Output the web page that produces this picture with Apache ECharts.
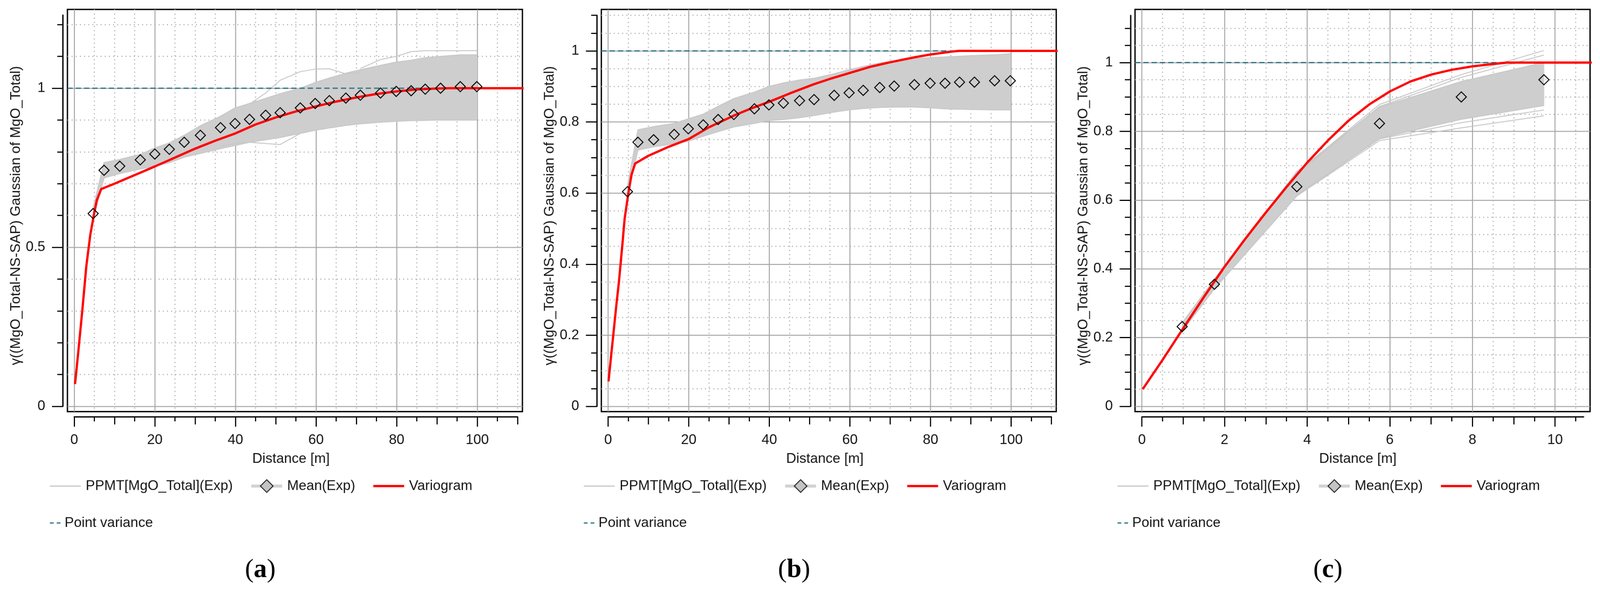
<!DOCTYPE html>
<html>
<head>
<meta charset="utf-8">
<title>PPMT variograms</title>
<script src="https://cdn.jsdelivr.net/npm/echarts@6/dist/echarts.min.js"></script>
<style>
  html, body { margin: 0; padding: 0; background: #fff; overflow: hidden; }
  #chart { width: 4248px; height: 1563px; transform-origin: 0 0; }
</style>
</head>
<body>
<div id="chart"></div>
<script>
// names and titles
const NAME_PPMT = 'PPMT[MgO_Total](Exp)';
const NAME_MEAN = 'Mean(Exp)';
const NAME_VARIO = 'Variogram';
const NAME_PV = 'Point variance';
const yTitle = 'γ((MgO_Total-NS-SAP) Gaussian of MgO_Total)';
const xTitle = 'Distance [m]';
const panelTags = ['a', 'b', 'c'];
const sill = 1;

// ---- panel (a) ----
const lagsA = [4.7, 7.4, 11.3, 16.4, 20.0, 23.6, 27.3, 31.3, 36.3, 39.9, 43.5, 47.5, 51.1, 56.1, 59.8, 63.3, 67.4, 71.0, 76.0, 79.9, 83.6, 87.1, 90.9, 95.8, 99.9];
const meanA = [0.606, 0.742, 0.755, 0.775, 0.793, 0.808, 0.830, 0.852, 0.876, 0.889, 0.902, 0.915, 0.923, 0.938, 0.952, 0.961, 0.969, 0.978, 0.985, 0.990, 0.992, 0.997, 1.000, 1.005, 1.005];
const bandLoA = [0.590, 0.718, 0.732, 0.746, 0.755, 0.766, 0.783, 0.795, 0.810, 0.820, 0.830, 0.838, 0.845, 0.858, 0.868, 0.875, 0.883, 0.888, 0.893, 0.896, 0.898, 0.899, 0.900, 0.900, 0.900];
const bandHiA = [0.625, 0.766, 0.776, 0.792, 0.812, 0.828, 0.852, 0.882, 0.912, 0.938, 0.952, 0.968, 0.983, 1.000, 1.018, 1.032, 1.047, 1.058, 1.072, 1.082, 1.088, 1.096, 1.100, 1.105, 1.105];
const ppmtHighA = [[43.5, 0.950], [47.5, 0.985], [51.1, 1.025], [56.1, 1.052], [59.8, 1.060], [63.3, 1.061], [67.4, 1.045], [71.0, 1.050]];
const ppmtLowA = [[36.3, 0.818], [39.9, 0.826], [43.5, 0.830], [47.5, 0.826], [51.1, 0.823], [56.1, 0.858], [59.8, 0.868]];
const ppmtTopA = [[71.0, 1.062], [76.0, 1.090], [79.9, 1.100], [83.6, 1.115], [87.1, 1.118], [90.9, 1.118], [95.8, 1.118], [99.9, 1.118]];
const variogramA = [[0.2, 0.07], [1, 0.17], [2, 0.30], [3, 0.44], [4, 0.54], [5, 0.61], [5.6, 0.648], [6.7, 0.683], [10, 0.700], [15, 0.727], [20, 0.754], [25, 0.782], [30, 0.810], [35, 0.835], [40, 0.858], [45, 0.886], [50, 0.908], [55, 0.927], [60, 0.943], [65, 0.958], [70, 0.971], [75, 0.982], [80, 0.990], [85, 0.996], [90, 0.999], [93, 1.0], [112, 1.0]];

// ---- panel (b) ----
const lagsB = [4.8, 7.4, 11.3, 16.4, 19.9, 23.6, 27.3, 31.2, 36.3, 39.9, 43.5, 47.5, 51.1, 56.1, 59.8, 63.3, 67.4, 71.0, 76.0, 79.9, 83.6, 87.2, 90.9, 95.9, 99.8];
const meanB = [0.604, 0.743, 0.750, 0.765, 0.781, 0.792, 0.807, 0.821, 0.837, 0.848, 0.853, 0.860, 0.863, 0.875, 0.882, 0.889, 0.897, 0.901, 0.905, 0.909, 0.909, 0.912, 0.912, 0.916, 0.916];
const bandLoB = [0.590, 0.721, 0.730, 0.739, 0.746, 0.760, 0.773, 0.786, 0.796, 0.804, 0.807, 0.812, 0.818, 0.828, 0.834, 0.838, 0.841, 0.842, 0.842, 0.840, 0.837, 0.836, 0.835, 0.834, 0.834];
const bandHiB = [0.620, 0.778, 0.787, 0.796, 0.809, 0.822, 0.844, 0.866, 0.884, 0.900, 0.910, 0.918, 0.923, 0.936, 0.947, 0.956, 0.966, 0.972, 0.978, 0.981, 0.983, 0.985, 0.987, 0.989, 0.992];
const variogramB = [[0.1, 0.07], [1, 0.17], [2, 0.28], [2.7, 0.352], [3.5, 0.45], [4.1, 0.528], [5, 0.598], [5.8, 0.651], [6.7, 0.683], [10, 0.705], [15, 0.730], [20, 0.752], [25, 0.785], [31.2, 0.818], [35, 0.836], [40, 0.857], [45, 0.880], [51, 0.906], [55, 0.921], [60, 0.938], [65, 0.955], [70, 0.968], [76, 0.982], [80, 0.990], [85.3, 0.998], [87, 1.0], [112, 1.0]];

// ---- panel (c) ----
const lagsC = [0.975, 1.755, 3.75, 5.75, 7.73, 9.73];
const meanC = [0.232, 0.355, 0.639, 0.823, 0.900, 0.950];
const bandLoC = [0.218, 0.342, 0.612, 0.780, 0.835, 0.875];
const bandHiC = [0.243, 0.370, 0.683, 0.870, 0.945, 1.000];
const ppmtHighC = [[3.75, 0.680], [5.75, 0.878], [7.73, 0.965], [9.73, 1.035]];
const ppmtHigh2C = [[3.75, 0.676], [5.75, 0.872], [7.73, 0.957], [9.73, 1.022]];
const ppmtLowC = [[3.75, 0.612], [5.75, 0.773], [7.73, 0.810], [9.73, 0.845]];
const ppmtLow2C = [[3.75, 0.615], [5.75, 0.778], [7.73, 0.825], [9.73, 0.862]];
const variogramC = [[0.02, 0.05], [0.5, 0.135], [1, 0.227], [1.5, 0.318], [2, 0.406], [2.5, 0.487], [3, 0.564], [3.5, 0.638], [4, 0.709], [4.5, 0.773], [5, 0.831], [5.5, 0.878], [6, 0.916], [6.5, 0.945], [7, 0.965], [7.5, 0.979], [8, 0.989], [8.5, 0.996], [8.85, 1.0], [11, 1.0]];

// ---- ticks ----
const xMajorAB = [0, 20, 40, 60, 80, 100];
const xMidAB = [10, 30, 50, 70, 90, 110];
const xMinorAB = [5, 15, 25, 35, 45, 55, 65, 75, 85, 95, 105];
const xMajorC = [0, 2, 4, 6, 8, 10];
const xMidC = [1, 3, 5, 7, 9];
const xMinorC = [0.5, 1.5, 2.5, 3.5, 4.5, 5.5, 6.5, 7.5, 8.5, 9.5, 10.5];
const yMajorA = [0, 0.5, 1];
const yMinorA = [0.1, 0.2, 0.3, 0.4, 0.6, 0.7, 0.8, 0.9, 1.1, 1.2];
const yMajorBC = [0, 0.2, 0.4, 0.6, 0.8, 1];
const yMinorBC = [0.05, 0.1, 0.15, 0.25, 0.3, 0.35, 0.45, 0.5, 0.55, 0.65, 0.7, 0.75, 0.85, 0.9, 0.95, 1.05, 1.1];

// ---- layout (pixels of the 4248 x 1563 figure) ----
const W = 4248, H = 1563;
const BOX_TOP = 25, BOX_BOTTOM = 1092, Y0_PX = 1078, X_AXIS_PX = 1106;
const FONT = 'Liberation Sans';
const TXT = '#141414';
const layout = [
  { boxLeft: 179, boxRight: 1387, x0: 197, xPx: 10.7, yPx: 844, xAxisMax: 110, yAxisMax: 1.23 },
  { boxLeft: 1596.5, boxRight: 2804.3, x0: 1614.5, xPx: 10.7, yPx: 943, xAxisMax: 110, yAxisMax: 1.1 },
  { boxLeft: 3013.5, boxRight: 4221.6, x0: 3031.7, xPx: 109.7, yPx: 912, xAxisMax: 10.69, yAxisMax: 1.137 }
];

const panels = [
  { lags: lagsA, mean: meanA, lo: bandLoA, hi: bandHiA, extra: [ppmtHighA, ppmtLowA, ppmtTopA], vario: variogramA,
    xMajor: xMajorAB, xMid: xMidAB, xMinor: xMinorAB, yMajor: yMajorA, yMinor: yMinorA },
  { lags: lagsB, mean: meanB, lo: bandLoB, hi: bandHiB, extra: [], vario: variogramB,
    xMajor: xMajorAB, xMid: xMidAB, xMinor: xMinorAB, yMajor: yMajorBC, yMinor: yMinorBC },
  { lags: lagsC, mean: meanC, lo: bandLoC, hi: bandHiC, extra: [ppmtHighC, ppmtHigh2C, ppmtLowC, ppmtLow2C], vario: variogramC,
    xMajor: xMajorC, xMid: xMidC, xMinor: xMinorC, yMajor: yMajorBC, yMinor: yMinorBC }
];

const solidGrid = { color: '#a3a3a3', width: 2.5 };
const dottedGrid = { color: '#b8b8b8', width: 3, type: [3, 8] };
const blackLine = { color: '#000', width: 3.5 };
const tickLine = { color: '#000', width: 3 };
const labelText = { fontFamily: FONT, fontSize: 37, color: TXT };
const noSymbol = { opacity: 0 };

const grids = [], xAxes = [], yAxes = [], series = [], legends = [], graphics = [];

function gridAxis(gridIndex, min, max, values, lineStyle) {
  return {
    type: 'value', gridIndex, min, max,
    axisLine: { show: false }, axisLabel: { show: false },
    axisTick: { show: false, customValues: values },
    splitLine: { show: true, lineStyle },
    minorTick: { show: false }, minorSplitLine: { show: false }
  };
}

function tickAxis(gridIndex, position, max, values, length, main) {
  return Object.assign({
    type: 'value', gridIndex, position, offset: 0, min: 0, max,
    axisLine: { show: false },
    axisTick: { show: true, inside: false, length, customValues: values, lineStyle: tickLine },
    axisLabel: { show: false },
    splitLine: { show: false }
  }, main || {});
}

function hiddenAxis(gridIndex) {
  return { type: 'value', gridIndex, show: false, min: 0, max: 1, splitLine: { show: false } };
}

function makeBand(p, xi, yi) {
  return {
    type: 'custom', xAxisIndex: xi, yAxisIndex: yi, silent: true, clip: true, z: 1,
    data: p.lags.map((d, i) => [d, p.lo[i], p.hi[i]]),
    renderItem: function (params, api) {
      if (params.dataIndex !== 0) return null;
      const pts = [];
      for (let i = 0; i < p.lags.length; i++) pts.push(api.coord([p.lags[i], p.hi[i]]));
      for (let i = p.lags.length - 1; i >= 0; i--) pts.push(api.coord([p.lags[i], p.lo[i]]));
      return { type: 'polygon', shape: { points: pts }, style: { fill: '#cecece', stroke: '#d4d4d4', lineWidth: 2 } };
    }
  };
}

function grayLine(xi, yi, data) {
  return {
    name: NAME_PPMT, type: 'line', xAxisIndex: xi, yAxisIndex: yi, data, symbol: 'none', silent: true, z: 2,
    lineStyle: { color: '#c8c8c8', width: 2.5 }, itemStyle: { color: '#c8c8c8' }
  };
}

panels.forEach(function (p, k) {
  const L = layout[k];
  const xMin = (L.boxLeft - L.x0) / L.xPx, xMax = (L.boxRight - L.x0) / L.xPx;
  const yMin = (Y0_PX - BOX_BOTTOM) / L.yPx, yMax = (Y0_PX - BOX_TOP) / L.yPx;

  // plot box with its grid lines
  const gBox = grids.length;
  grids.push({ left: L.boxLeft, top: BOX_TOP, width: L.boxRight - L.boxLeft, height: BOX_BOTTOM - BOX_TOP,
    show: true, borderColor: '#000', borderWidth: 3.5, backgroundColor: '#fff', outerBoundsMode: 'none' });
  const xi = xAxes.length, yi = yAxes.length;
  xAxes.push(gridAxis(gBox, xMin, xMax, p.xMajor, solidGrid));
  xAxes.push(gridAxis(gBox, xMin, xMax, p.xMid.concat(p.xMinor), dottedGrid));
  yAxes.push(gridAxis(gBox, yMin, yMax, p.yMajor, solidGrid));
  yAxes.push(gridAxis(gBox, yMin, yMax, p.yMinor, dottedGrid));

  // detached y axis
  const gY = grids.length;
  grids.push({ left: L.boxLeft - 12, top: Y0_PX - L.yAxisMax * L.yPx, width: 10, height: L.yAxisMax * L.yPx, outerBoundsMode: 'none' });
  xAxes.push(hiddenAxis(gY));
  yAxes.push(tickAxis(gY, 'left', L.yAxisMax, p.yMajor, 29, {
    axisLine: { show: true, lineStyle: blackLine },
    axisLabel: Object.assign({ show: true, customValues: p.yMajor, margin: 47 }, labelText),
    name: yTitle, nameLocation: 'middle', nameGap: 106,
    nameTextStyle: Object.assign({ padding: [0, 26, 0, 0] }, labelText)
  }));
  yAxes.push(tickAxis(gY, 'left', L.yAxisMax, p.yMinor, 15, null));

  // detached x axis
  const gX = grids.length;
  grids.push({ left: L.x0, top: X_AXIS_PX - 10, width: L.xAxisMax * L.xPx, height: 10, outerBoundsMode: 'none' });
  yAxes.push(hiddenAxis(gX));
  xAxes.push(tickAxis(gX, 'bottom', L.xAxisMax, p.xMajor, 26, {
    axisLine: { show: true, lineStyle: blackLine },
    axisLabel: Object.assign({ show: true, customValues: p.xMajor, margin: 43 }, labelText),
    name: xTitle, nameLocation: 'middle', nameGap: 93,
    nameTextStyle: Object.assign({ padding: [0, 26, 0, 0] }, labelText)
  }));
  xAxes.push(tickAxis(gX, 'bottom', L.xAxisMax, p.xMid, 20, null));
  xAxes.push(tickAxis(gX, 'bottom', L.xAxisMax, p.xMinor, 12, null));

  // series
  series.push(makeBand(p, xi, yi));
  series.push(grayLine(xi, yi, p.lags.map((d, i) => [d, p.hi[i]])));
  series.push(grayLine(xi, yi, p.lags.map((d, i) => [d, p.lo[i]])));
  p.extra.forEach(function (ln) { series.push(grayLine(xi, yi, ln)); });
  series.push({
    name: NAME_PV, type: 'line', xAxisIndex: xi, yAxisIndex: yi, symbol: 'none', silent: true, z: 3,
    data: [[xMin, sill], [xMax, sill]],
    lineStyle: { color: '#1f6d7e', width: 3, type: [14, 8] }, itemStyle: { color: '#1f6d7e' }
  });
  series.push({
    name: NAME_VARIO, type: 'line', xAxisIndex: xi, yAxisIndex: yi, symbol: 'none', silent: true, z: 4,
    data: p.vario, smooth: false,
    lineStyle: { color: '#ff0000', width: 6 }, itemStyle: { color: '#ff0000' }
  });
  series.push({
    name: NAME_MEAN, type: 'line', xAxisIndex: xi, yAxisIndex: yi, silent: true, z: 5,
    data: p.lags.map((d, i) => [d, p.mean[i]]),
    symbol: 'diamond', symbolSize: 27, showSymbol: true, showAllSymbol: true,
    lineStyle: { width: 0, opacity: 0 },
    itemStyle: { color: 'rgba(0,0,0,0)', borderColor: '#000', borderWidth: 2.5 }
  });

  // legends
  const legLeft = L.boxLeft - 48;
  legends.push({
    left: legLeft, top: 1292 - 21, orient: 'horizontal', itemWidth: 82, itemHeight: 42, itemGap: 45,
    selectedMode: false, padding: 0,
    textStyle: Object.assign({ padding: [0, 0, 0, 8] }, labelText),
    data: [
      { name: NAME_PPMT, textStyle: { width: 399 }, lineStyle: { width: 3, color: '#c8c8c8' }, itemStyle: noSymbol },
      { name: NAME_MEAN, textStyle: { width: 184 },
        lineStyle: { width: 8, color: '#d2d2d2', opacity: 1 },
        itemStyle: { color: '#c4c4c4', borderColor: '#222', borderWidth: 2.5 } },
      { name: NAME_VARIO, textStyle: { width: 169 }, lineStyle: { width: 6, color: '#ff0000' }, itemStyle: noSymbol }
    ]
  });
  legends.push({
    left: legLeft, top: 1379 - 10, orient: 'horizontal', itemWidth: 30, itemHeight: 20,
    selectedMode: false, padding: 0,
    textStyle: Object.assign({ padding: [0, 0, 0, 4] }, labelText),
    data: [{ name: NAME_PV, lineStyle: { type: [10, 8], width: 3, color: '#1f6d7e' }, itemStyle: noSymbol }]
  });

  // panel tag
  graphics.push({
    type: 'text', x: (L.boxLeft + L.boxRight) / 2 - 92, y: 1513, silent: true,
    style: {
      text: '({b|' + panelTags[k] + '})', fontFamily: 'Liberation Serif', fontSize: 70, fill: '#000',
      align: 'center', verticalAlign: 'middle',
      rich: { b: { fontFamily: 'Liberation Serif', fontSize: 70, fontWeight: 'bold', fill: '#000' } }
    }
  });
});

// fit the fixed-size figure into whatever viewport we get
const box = document.getElementById('chart');
const fit = Math.min(window.innerWidth / W, window.innerHeight / H);
if (fit > 0 && Math.abs(fit - 1) > 0.002) box.style.transform = 'scale(' + fit + ')';

const chart = echarts.init(box, null, { renderer: 'canvas' });
chart.setOption({
  backgroundColor: '#fff',
  animation: false,
  textStyle: { fontFamily: FONT },
  grid: grids,
  xAxis: xAxes,
  yAxis: yAxes,
  legend: legends,
  series: series,
  graphic: graphics
});
</script>
</body>
</html>
